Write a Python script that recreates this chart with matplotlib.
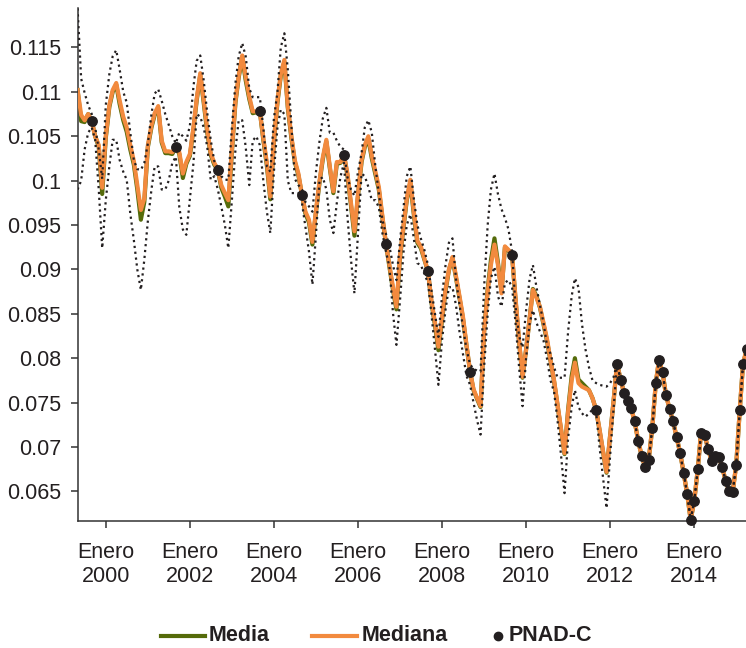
import matplotlib
matplotlib.use("Agg")
import matplotlib.pyplot as plt
from matplotlib.lines import Line2D
from matplotlib.ticker import FuncFormatter
import pandas as pd

plt.rcParams['font.family'] = ['Liberation Sans', 'DejaVu Sans']

# ---------------- data ----------------
model_start = "1999-05-01"   # monthly model estimates, May 1999 - Feb 2012

mediana = [
    0.1102, 0.1074, 0.1068, 0.1075, 0.1067, 0.1050, 0.1040, 0.0992,
    0.1050, 0.1085, 0.1102, 0.1110, 0.1090, 0.1072, 0.1060, 0.1040, 0.1022, 0.0995, 0.0967, 0.0980,
    0.1040, 0.1062, 0.1076, 0.1084, 0.1045, 0.1033, 0.1033, 0.1032, 0.1038, 0.1032, 0.1008, 0.1021,
    0.1030, 0.1060, 0.1092, 0.1121, 0.1091, 0.1057, 0.1031, 0.1020, 0.1012, 0.0995, 0.0986, 0.0978,
    0.1035, 0.1090, 0.1118, 0.1141, 0.1117, 0.1095, 0.1078, 0.1078, 0.1078, 0.1048, 0.1020, 0.0982,
    0.1045, 0.1090, 0.1120, 0.1136, 0.1084, 0.1050, 0.1023, 0.1008, 0.0984, 0.0965, 0.0956, 0.0931,
    0.0967, 0.1000, 0.1026, 0.1046, 0.1016, 0.0988, 0.1021, 0.1021, 0.1029, 0.1008, 0.0975, 0.0943,
    0.0985, 0.1023, 0.1040, 0.1050, 0.1028, 0.1010, 0.0993, 0.0960, 0.0929, 0.0905, 0.0880, 0.0858,
    0.0915, 0.0950, 0.0980, 0.1001, 0.0965, 0.0932, 0.0926, 0.0912, 0.0898, 0.0865, 0.0840, 0.0813,
    0.0845, 0.0878, 0.0900, 0.0914, 0.0893, 0.0870, 0.0847, 0.0815, 0.0785, 0.0765, 0.0755, 0.0746,
    0.0830, 0.0875, 0.0905, 0.0928, 0.0905, 0.0873, 0.0926, 0.0922, 0.0916, 0.0868, 0.0820, 0.0779,
    0.0810, 0.0845, 0.0877, 0.0868, 0.0858, 0.0840, 0.0822, 0.0798, 0.0775, 0.0748, 0.0720, 0.0693,
    0.0740, 0.0775, 0.0795, 0.0772, 0.0768, 0.0766, 0.0764, 0.0755, 0.0742, 0.0720, 0.0695, 0.0672,
    0.0713, 0.0753,
]

media = [
    0.1102, 0.1067, 0.1066, 0.1075, 0.1067, 0.1050, 0.1038, 0.0985,
    0.1048, 0.1083, 0.1100, 0.1108, 0.1086, 0.1068, 0.1055, 0.1035, 0.1018, 0.0990, 0.0956, 0.0976,
    0.1038, 0.1060, 0.1074, 0.1082, 0.1043, 0.1031, 0.1031, 0.1030, 0.1038, 0.1030, 0.1003, 0.1019,
    0.1028, 0.1058, 0.1090, 0.1119, 0.1088, 0.1054, 0.1029, 0.1018, 0.1012, 0.0992, 0.0982, 0.0971,
    0.1032, 0.1088, 0.1116, 0.1139, 0.1113, 0.1092, 0.1076, 0.1077, 0.1078, 0.1046, 0.1017, 0.0979,
    0.1043, 0.1088, 0.1118, 0.1134, 0.1082, 0.1048, 0.1021, 0.1006, 0.0984, 0.0963, 0.0953, 0.0928,
    0.0965, 0.0998, 0.1024, 0.1044, 0.1014, 0.0986, 0.1019, 0.1020, 0.1029, 0.1006, 0.0972, 0.0938,
    0.0983, 0.1021, 0.1038, 0.1047, 0.1025, 0.1007, 0.0990, 0.0958, 0.0929, 0.0903, 0.0877, 0.0855,
    0.0913, 0.0948, 0.0978, 0.0998, 0.0962, 0.0930, 0.0924, 0.0911, 0.0898, 0.0863, 0.0837, 0.0809,
    0.0843, 0.0876, 0.0899, 0.0913, 0.0891, 0.0868, 0.0845, 0.0814, 0.0785, 0.0764, 0.0754, 0.0745,
    0.0830, 0.0878, 0.0910, 0.0935, 0.0908, 0.0875, 0.0925, 0.0921, 0.0916, 0.0866, 0.0818, 0.0778,
    0.0810, 0.0845, 0.0878, 0.0870, 0.0857, 0.0838, 0.0820, 0.0797, 0.0774, 0.0747, 0.0719, 0.0692,
    0.0742, 0.0780, 0.0800, 0.0776, 0.0772, 0.0768, 0.0764, 0.0755, 0.0742, 0.0719, 0.0694, 0.0671,
    0.0713, 0.0753,
]

banda_sup = [
    0.1194, 0.1115, 0.1099, 0.1085, 0.1075, 0.1060, 0.1035, 0.1002,
    0.1085, 0.1120, 0.1140, 0.1147, 0.1125, 0.1100, 0.1088, 0.1054, 0.1023, 0.1013, 0.1012, 0.1020,
    0.1042, 0.1075, 0.1098, 0.1103, 0.1090, 0.1075, 0.1063, 0.1050, 0.1042, 0.1054, 0.1050, 0.1045,
    0.1062, 0.1106, 0.1135, 0.1141, 0.1113, 0.1076, 0.1046, 0.1022, 0.1015, 0.1005, 0.1001, 0.1001,
    0.1060, 0.1110, 0.1140, 0.1155, 0.1140, 0.1104, 0.1094, 0.1094, 0.1094, 0.1060, 0.1016, 0.1010,
    0.1070, 0.1100, 0.1150, 0.1166, 0.1125, 0.1062, 0.1002, 0.0995, 0.0990, 0.0976, 0.0971, 0.0965,
    0.1010, 0.1045, 0.1070, 0.1082, 0.1054, 0.1054, 0.1045, 0.1038, 0.1035, 0.1004, 0.0990, 0.0983,
    0.1010, 0.1031, 0.1060, 0.1068, 0.1054, 0.1016, 0.0986, 0.0956, 0.0940, 0.0926, 0.0905, 0.0888,
    0.0932, 0.0970, 0.1005, 0.1016, 0.0980, 0.0950, 0.0935, 0.0922, 0.0905, 0.0877, 0.0850, 0.0824,
    0.0870, 0.0905, 0.0930, 0.0935, 0.0890, 0.0860, 0.0835, 0.0810, 0.0793, 0.0788, 0.0786, 0.0785,
    0.0880, 0.0950, 0.0990, 0.1008, 0.0985, 0.0968, 0.0958, 0.0945, 0.0920, 0.0858, 0.0825, 0.0812,
    0.0854, 0.0890, 0.0905, 0.0880, 0.0860, 0.0840, 0.0815, 0.0805, 0.0790, 0.0778, 0.0778, 0.0778,
    0.0830, 0.0870, 0.0890, 0.0880, 0.0839, 0.0810, 0.0790, 0.0775, 0.0772, 0.0770, 0.0769, 0.0768,
    0.0772, 0.0779,
]

banda_inf = [
    0.0990, 0.1000, 0.1035, 0.1054, 0.1060, 0.1046, 0.0990, 0.0924,
    0.0978, 0.1016, 0.1046, 0.1046, 0.1023, 0.1010, 0.1001, 0.0963, 0.0933, 0.0900, 0.0877, 0.0911,
    0.0955, 0.0990, 0.1016, 0.1016, 0.0990, 0.0990, 0.1000, 0.1020, 0.1027, 0.0970, 0.0945, 0.0939,
    0.0980, 0.1020, 0.1075, 0.1072, 0.1060, 0.1038, 0.1001, 0.1005, 0.0990, 0.0971, 0.0950, 0.0924,
    0.0978, 0.1035, 0.1068, 0.1068, 0.1038, 0.0995, 0.1045, 0.1050, 0.1040, 0.1000, 0.0965, 0.0941,
    0.1010, 0.1060, 0.1080, 0.1075, 0.1000, 0.0986, 0.0986, 0.0986, 0.0975, 0.0948, 0.0920, 0.0883,
    0.0940, 0.1001, 0.1004, 0.0990, 0.0956, 0.0941, 0.0975, 0.1004, 0.1020, 0.0960, 0.0911, 0.0873,
    0.0940, 0.1008, 0.1005, 0.0993, 0.0978, 0.0978, 0.0970, 0.0941, 0.0920, 0.0903, 0.0851, 0.0815,
    0.0865, 0.0920, 0.0950, 0.0962, 0.0935, 0.0907, 0.0905, 0.0895, 0.0885, 0.0850, 0.0810, 0.0770,
    0.0820, 0.0855, 0.0880, 0.0880, 0.0860, 0.0830, 0.0805, 0.0780, 0.0770, 0.0750, 0.0730, 0.0714,
    0.0790, 0.0850, 0.0890, 0.0903, 0.0870, 0.0858, 0.0885, 0.0888, 0.0880, 0.0840, 0.0790, 0.0746,
    0.0800, 0.0840, 0.0854, 0.0840, 0.0830, 0.0820, 0.0800, 0.0775, 0.0762, 0.0730, 0.0690, 0.0648,
    0.0710, 0.0745, 0.0764, 0.0745, 0.0738, 0.0734, 0.0738, 0.0742, 0.0740, 0.0700, 0.0665, 0.0631,
    0.0690, 0.0745,
]

# PNAD (annual, September) points before 2012
pnad_anual_fechas = ["1999-09-01", "2001-09-01", "2002-09-01", "2003-09-01", "2004-09-01",
                     "2005-09-01", "2006-09-01", "2007-09-01", "2008-09-01", "2009-09-01",
                     "2011-09-01"]
pnad_anual = [0.1067, 0.1038, 0.1012, 0.1078, 0.0984, 0.1029, 0.0929, 0.0898, 0.0785,
              0.0916, 0.0742]

# PNAD-C monthly (moving quarter), Mar 2012 onward
pnadc_start = "2012-03-01"
pnadc = [
    0.0794, 0.0776, 0.0761, 0.0752, 0.0744, 0.0729, 0.0707, 0.0690, 0.0677, 0.0685,
    0.0721, 0.0772, 0.0798, 0.0784, 0.0758, 0.0743, 0.0729, 0.0711, 0.0693, 0.0671,
    0.0647, 0.0618, 0.0639, 0.0675, 0.0716, 0.0714, 0.0698, 0.0684, 0.0690, 0.0689,
    0.0677, 0.0662, 0.0650, 0.0649, 0.0680, 0.0742, 0.0793, 0.0810,
]

tick_years = [2000, 2002, 2004, 2006, 2008, 2010, 2012, 2014]
y_ticks = [0.065, 0.07, 0.075, 0.08, 0.085, 0.09, 0.095, 0.1, 0.105, 0.11, 0.115]

# ---------------- build series ----------------
n_all = len(mediana) + len(pnadc)
fechas = pd.date_range(model_start, periods=n_all, freq="MS")
fechas_c = pd.date_range(pnadc_start, periods=len(pnadc), freq="MS")
s_media = media + pnadc
s_mediana = mediana + pnadc
s_sup = banda_sup + pnadc
s_inf = banda_inf + pnadc

# ---------------- plot ----------------
GREEN = "#556B0A"
ORANGE = "#F28A3E"
DARK = "#231F20"
FS = 15.5

fig = plt.figure(figsize=(7.46, 6.48), dpi=100)
ax = fig.add_axes([0.104, 0.1965, 0.896, 0.7905])

ax.plot(fechas, s_media, color=GREEN, lw=3.0, zorder=2)
ax.plot(fechas, s_mediana, color=ORANGE, lw=3.0, zorder=3)
ax.plot(fechas, s_sup, color=DARK, lw=1.6, ls=":", zorder=4)
ax.plot(fechas, s_inf, color=DARK, lw=1.6, ls=":", zorder=4)
ax.plot(pd.to_datetime(pnad_anual_fechas), pnad_anual, "o", color=DARK, ms=6.8,
        zorder=5, clip_on=False)
ax.plot(fechas_c, pnadc, "o", color=DARK, ms=6.8, zorder=5, clip_on=False)

ax.set_xlim(pd.Timestamp("1999-05-01"), pd.Timestamp("2015-03-27"))
ax.set_ylim(0.0617, 0.1194)

ax.set_xticks([pd.Timestamp(f"{y}-01-01") for y in tick_years])
ax.set_xticklabels([f"Enero\n{y}" for y in tick_years])
ax.set_yticks(y_ticks)
ax.yaxis.set_major_formatter(FuncFormatter(lambda v, p: f"{v:g}"))

for sp in ["top", "right"]:
    ax.spines[sp].set_visible(False)
for sp in ["left", "bottom"]:
    ax.spines[sp].set_color("#333333")
    ax.spines[sp].set_linewidth(1.1)
ax.tick_params(axis="both", colors="#333333", labelcolor=DARK, labelsize=FS,
               length=5, width=1.1)
ax.tick_params(axis="y", pad=7)
ax.tick_params(axis="x", pad=10)

# ---------------- legend (manual, bottom centre) ----------------
W, H = 746.0, 648.0
ly = 1 - 635.5 / H
def fx(px):
    return px / W

fig.add_artist(Line2D([fx(160.7), fx(205)], [ly, ly], color=GREEN, lw=3.0,
                      transform=fig.transFigure))
fig.text(fx(209), ly, "Media", fontsize=FS, fontweight="bold", color=DARK,
         va="center", ha="left")
fig.add_artist(Line2D([fx(312.3), fx(357.3)], [ly, ly], color=ORANGE, lw=3.0,
                      transform=fig.transFigure))
fig.text(fx(361.5), ly, "Mediana", fontsize=FS, fontweight="bold", color=DARK,
         va="center", ha="left")
fig.add_artist(Line2D([fx(498.3)], [ly], color=DARK, marker="o", ms=6, ls="none",
                      transform=fig.transFigure))
fig.text(fx(509), ly, "PNAD-C", fontsize=FS, fontweight="bold", color=DARK,
         va="center", ha="left")

fig.savefig("out.png", dpi=100)
